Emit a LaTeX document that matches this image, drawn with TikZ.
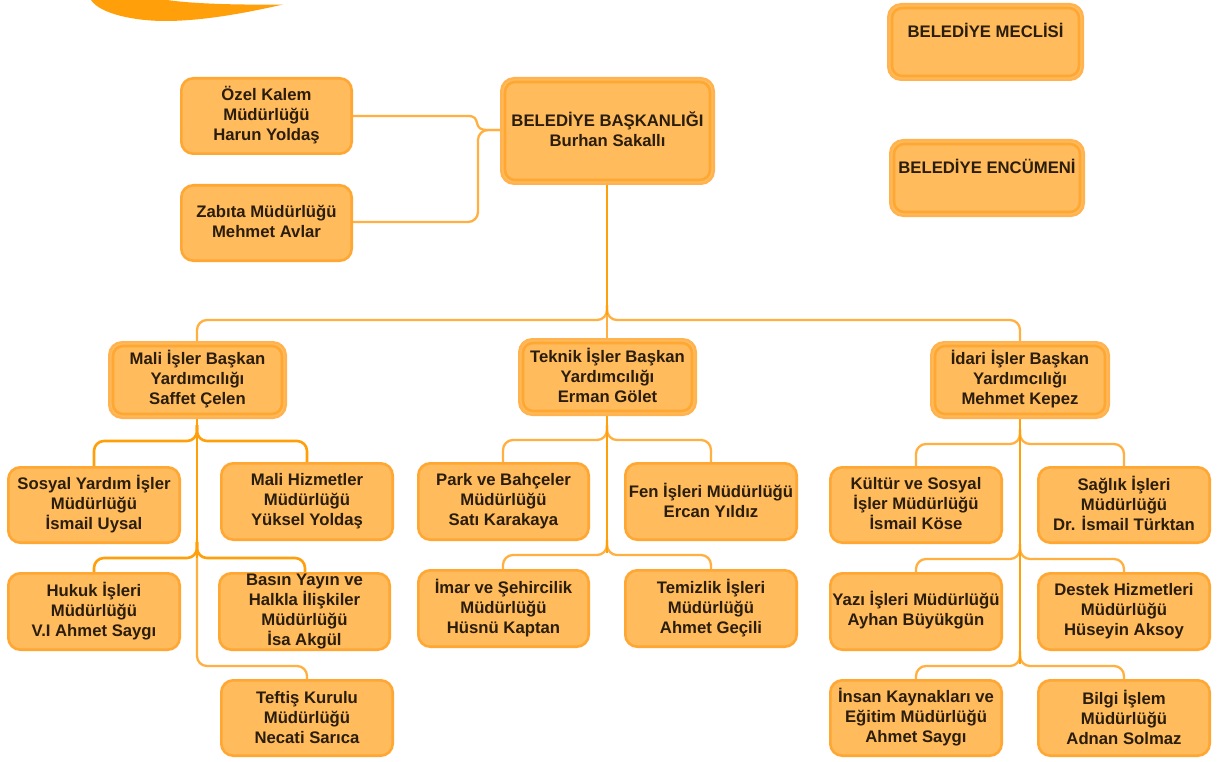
\documentclass[tikz,border=0pt]{standalone}
\usepackage{fontspec}
\setmainfont{Liberation Sans}
\definecolor{boxfill}{HTML}{FFBB5C}
\definecolor{boxline}{HTML}{FFA733}
\definecolor{outerline}{HTML}{FFB24D}
\definecolor{wire}{HTML}{FFB040}
\definecolor{trunk}{HTML}{FF9F0A}
\definecolor{ink}{HTML}{2A1D0C}
\tikzset{
  x=1pt,y=-1pt,
  plainbox/.style={rounded corners=12pt,draw=boxline,fill=boxfill,line width=2.6pt,inner sep=0pt},
  doublebox/.style={rounded corners=13pt,draw=outerline,fill=boxfill,line width=2.2pt},
  innerbox/.style={rounded corners=10pt,draw=boxline,line width=2.6pt},
  label text/.style={font=\bfseries\fontsize{16.7}{20}\selectfont,text=ink,align=center,inner sep=0pt},
  thin wire/.style={draw=wire,line width=2.3pt,rounded corners=10pt},
  thick wire/.style={draw=trunk,line width=2.8pt},
  bus wire/.style={draw=trunk,line width=2.6pt,rounded corners=10pt}
}
% name, x1, y1, x2, y2, text centre y, text
\newcommand{\orgbox}[7]{%
  \draw[plainbox] (#2+1.3,#3+1.3) rectangle (#4-1.3,#5-1.3);
  \node[label text] (#1) at ({(#2+#4)/2},#6) {#7};
}
\newcommand{\orgdouble}[7]{%
  \draw[doublebox] (#2+1.1,#3+1.1) rectangle (#4-1.1,#5-1.1);
  \draw[innerbox] (#2+5,#3+5) rectangle (#4-5,#5-5);
  \node[label text] (#1) at ({(#2+#4)/2},#6) {#7};
}
\begin{document}
\begin{tikzpicture}
\path[use as bounding box] (0,0) rectangle (1220,762);
\fill[white] (0,0) rectangle (1220,762);
% swoosh
\fill[trunk] (91,0) .. controls (100,14) and (135,21) .. (165,21)
  .. controls (205,21) and (250,12) .. (283,4.5)
  .. controls (240,5) and (195,4) .. (167,0) -- cycle;
% coordinates for connector ends
\coordinate (ozelR) at (353,116);
\coordinate (zabR) at (353,222);
\coordinate (baskL) at (500,130);
\coordinate (baskB) at (607,185);
\coordinate (maliT) at (197,341);
\coordinate (teknT) at (607,338);
\coordinate (idarT) at (1020,341);
\coordinate (maliB) at (197,419);
\coordinate (teknB) at (607,416);
\coordinate (idarB) at (1020,419);
% top connectors
\draw[thin wire,rounded corners=0pt] (ozelR) -- (468,116) .. controls (475,116) and (476,119) .. (477,123) .. controls (478,128) and (481,130) .. (487,130) -- (baskL);
\draw[thin wire] (zabR) -- (478,222) -- (478,130) -- (baskL);
\draw[thin wire] (607,305) -- (607,320) -- (197,320) -- (maliT);
\draw[thin wire] (607,305) -- (607,320) -- (1020,320) -- (idarT);
\draw[thick wire] (baskB) -- (607,315);
\draw[thin wire,rounded corners=0pt] (607,315) -- (teknT);
% Mali
\draw[thin wire] (197,540) -- (197,666) -- (307,666) -- (307,679);
\draw[bus wire] (197,425) -- (197,441) -- (94,441) -- (94,466);
\draw[bus wire] (197,425) -- (197,441) -- (307,441) -- (307,462);
\draw[bus wire] (197,542) -- (197,558) -- (94,558) -- (94,572);
\draw[bus wire] (197,542) -- (197,558) -- (305,558) -- (305,574);
\draw[thick wire] (maliB) -- (197,558);
% Teknik
\draw[thin wire] (607,425) -- (607,440) -- (503,440) -- (503,462);
\draw[thin wire] (607,425) -- (607,440) -- (711,440) -- (711,462);
\draw[thin wire] (607,540) -- (607,555) -- (503,555) -- (503,569);
\draw[thin wire] (607,540) -- (607,555) -- (711,555) -- (711,569);
\draw[thick wire] (teknB) -- (607,553);
% Idari
\draw[thin wire] (1020,429) -- (1020,444) -- (916,444) -- (916,466);
\draw[thin wire] (1020,429) -- (1020,444) -- (1124,444) -- (1124,466);
\draw[thin wire] (1020,544) -- (1020,559) -- (916,559) -- (916,572);
\draw[thin wire] (1020,544) -- (1020,559) -- (1124,559) -- (1124,572);
\draw[thin wire] (1020,651) -- (1020,666) -- (916,666) -- (916,679);
\draw[thin wire] (1020,651) -- (1020,666) -- (1124,666) -- (1124,679);
\draw[thick wire] (idarB) -- (1020,664);
% boxes
\orgdouble{bask}{500}{77}{715}{185}{129.3}{BELEDİYE BAŞKANLIĞI\\Burhan Sakallı}
\orgdouble{meclis}{887}{3}{1084}{81}{30}{BELEDİYE MECLİSİ}
\orgdouble{encumen}{889}{139}{1085}{217}{166.5}{BELEDİYE ENCÜMENİ}
\orgbox{ozel}{180}{77}{353}{155}{115}{Özel Kalem\\Müdürlüğü\\Harun Yoldaş}
\orgbox{zabita}{180}{184}{353}{262}{221.7}{Zabıta Müdürlüğü\\Mehmet Avlar}
\orgdouble{mali}{108}{341}{287}{419}{379}{Mali İşler Başkan\\Yardımcılığı\\Saffet Çelen}
\orgdouble{teknik}{518}{338}{697}{416}{375.5}{Teknik İşler Başkan\\Yardımcılığı\\Erman Gölet}
\orgdouble{idari}{930}{341}{1110}{419}{379}{İdari İşler Başkan\\Yardımcılığı\\Mehmet Kepez}
\orgbox{sosyal}{7}{466}{181}{544}{504}{Sosyal Yardım İşler\\Müdürlüğü\\İsmail Uysal}
\orgbox{hizmet}{220}{462}{394}{541}{501}{Mali Hizmetler\\Müdürlüğü\\Yüksel Yoldaş}
\orgbox{hukuk}{7}{572}{181}{651}{611}{Hukuk İşleri\\Müdürlüğü\\V.I Ahmet Saygı}
\orgbox{basin}{218}{572}{391}{651}{612}{Basın Yayın ve\\Halkla İlişkiler\\Müdürlüğü\\İsa Akgül}
\orgbox{teftis}{220}{679}{394}{757}{717.5}{Teftiş Kurulu\\Müdürlüğü\\Necati Sarıca}
\orgbox{park}{417}{462}{590}{541}{501}{Park ve Bahçeler\\Müdürlüğü\\Satı Karakaya}
\orgbox{fen}{624}{462}{798}{541}{500.5}{Fen İşleri Müdürlüğü\\Ercan Yıldız}
\orgbox{imar}{417}{569}{590}{648}{608}{İmar ve Şehircilik\\Müdürlüğü\\Hüsnü Kaptan}
\orgbox{temiz}{624}{569}{798}{648}{608}{Temizlik İşleri\\Müdürlüğü\\Ahmet Geçili}
\orgbox{kultur}{829}{466}{1003}{544}{503.5}{Kültür ve Sosyal\\İşler Müdürlüğü\\İsmail Köse}
\orgbox{saglik}{1037}{466}{1211}{544}{503.5}{Sağlık İşleri\\Müdürlüğü\\Dr. İsmail Türktan}
\orgbox{yazi}{829}{572}{1003}{651}{610.5}{Yazı İşleri Müdürlüğü\\Ayhan Büyükgün}
\orgbox{destek}{1037}{572}{1211}{651}{611}{Destek Hizmetleri\\Müdürlüğü\\Hüseyin Aksoy}
\orgbox{insan}{829}{679}{1003}{757}{717.5}{İnsan Kaynakları ve\\Eğitim Müdürlüğü\\Ahmet Saygı}
\orgbox{bilgi}{1037}{679}{1211}{757}{717.5}{Bilgi İşlem\\Müdürlüğü\\Adnan Solmaz}
\end{tikzpicture}
\end{document}
